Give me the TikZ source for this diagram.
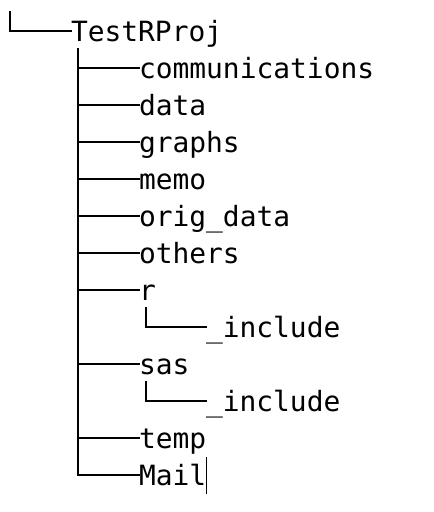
\documentclass[tikz,border=0pt]{standalone}
\usepackage{fontspec}
\newfontfamily\treemono{DejaVu Sans Mono}
\tikzset{
  lbl/.style={inner sep=0pt, outer sep=0pt, anchor=west, text height=20pt, text depth=0pt,
    font=\treemono\fontsize{27.9}{30}\selectfont},
  branch/.style={line width=2pt, line cap=rect},
  cursorbar/.style={line width=1pt}
}
\begin{document}
\begin{tikzpicture}[x=1pt,y=-1pt]
\useasboundingbox (0,0) rectangle (434,512);
% labels
\node[lbl] (root)  at (71,31)  {TestRProj};
\node[lbl] (comm)  at (139,68) {communications};
\node[lbl] (data)  at (139,105) {data};
\node[lbl] (graphs) at (139,142) {graphs};
\node[lbl] (memo)  at (139,179) {memo};
\node[lbl] (orig)  at (139,216) {orig\_data};
\node[lbl] (others) at (139,253) {others};
\node[lbl] (r)     at (139,290) {r};
\node[lbl] (rinc)  at (206,327) {\_include};
\node[lbl] (sas)   at (139,364) {sas};
\node[lbl] (sinc)  at (206,401) {\_include};
\node[lbl] (temp)  at (139,438) {temp};
\node[lbl] (mail)  at (139,475) {Mail};
% connectors
\coordinate (top) at (10,12);
\coordinate (trunk) at (78,49);
\coordinate (rtop) at (146,308);
\coordinate (stop) at (146,382);
\draw[branch] (top) |- (root.west);
\draw[branch] (trunk) |- (mail.west);
\foreach \n in {comm,data,graphs,memo,orig,others,r,sas,temp}
  \draw[branch] (trunk |- \n.west) -- (\n.west);
\draw[branch] (rtop) |- (rinc.west);
\draw[branch] (stop) |- (sinc.west);
% text cursor
\coordinate (cur) at (mail.east);
\draw[cursorbar] ([yshift=-19pt]cur) -- ([yshift=18pt]cur);
\end{tikzpicture}
\end{document}
